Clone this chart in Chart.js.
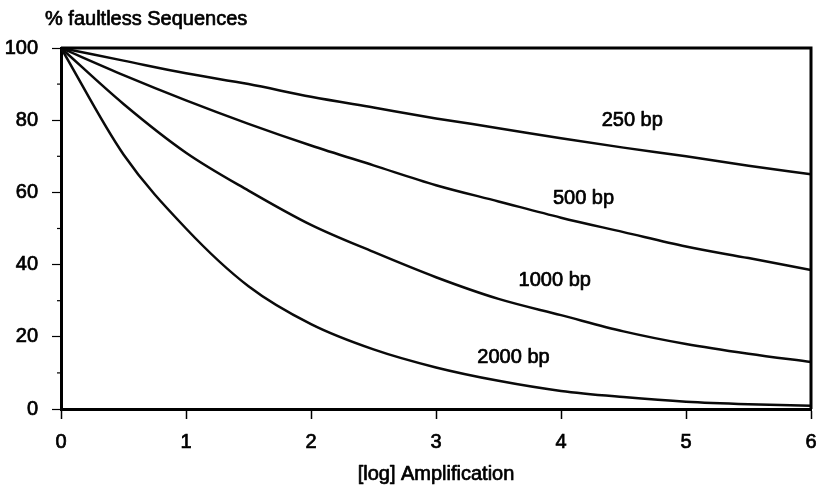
<!DOCTYPE html>
<html>
<head>
<meta charset="utf-8">
<script src="https://cdn.jsdelivr.net/npm/chart.js@4/dist/chart.umd.min.js"></script>
<style>
  html, body { margin: 0; padding: 0; background: #fff; }
  #wrap { width: 818px; height: 486px; }
</style>
</head>
<body>
<div id="wrap"><canvas id="c" width="818" height="486"></canvas></div>
<script>
// ---- data ----
const amplification = [0, 0.5, 1, 1.5, 2, 2.5, 3, 3.5, 4, 4.5, 5, 5.5, 6];
const bp250  = [100, 96.5, 93, 90, 86.5, 83.5, 80.5, 77.8, 75, 72.4, 70, 67.4, 65];
const bp500  = [100, 92.5, 85.5, 79, 73, 67.5, 62, 57.5, 53, 49, 45, 41.8, 38.5];
const bp1000 = [100, 84.5, 71, 60.5, 51, 43.5, 36.5, 30.5, 26, 21.5, 18, 15.3, 13];
const bp2000 = [100, 70.5, 50, 34, 23.5, 16.5, 11.5, 7.8, 5, 3.3, 2, 1.3, 0.9];
const seriesNames = ['250 bp', '500 bp', '1000 bp', '2000 bp'];
const xTicks = [0, 1, 2, 3, 4, 5, 6];
const yTicks = [0, 20, 40, 60, 80, 100];
const yMinorTicks = [10, 30, 50, 70, 90];
const yTitle = '% faultless Sequences';
const xTitle = '[log] Amplification';

const FONT = 'Arial, "Liberation Sans", Helvetica, sans-serif';
const STROKE = 0.7;
const series = [bp250, bp500, bp1000, bp2000];

function pts(arr) { return arr.map((v, i) => ({ x: amplification[i], y: v })); }

// label anchors (data coordinates) for the in-plot series names
const labelAnchors = [
  { x: 4.57, y: 80.0 },
  { x: 4.18, y: 58.4 },
  { x: 3.95, y: 35.5 },
  { x: 3.62, y: 14.3 }
];

function heavyText(ctx, t, x, y) {
  ctx.fillText(t, x, y);
  ctx.strokeText(t, x, y);
}

const framePlugin = {
  id: 'frame',
  afterDraw(chart) {
    const { ctx, chartArea: a, scales } = chart;
    const xs = scales.x, ys = scales.y;
    ctx.save();
    // frame top and right
    ctx.strokeStyle = '#000';
    ctx.lineWidth = 3;
    ctx.beginPath();
    ctx.moveTo(a.left, a.top);
    ctx.lineTo(a.right, a.top);
    ctx.lineTo(a.right, a.bottom);
    ctx.stroke();
    // minor y ticks
    ctx.lineWidth = 1.2;
    yMinorTicks.forEach(v => {
      const py = ys.getPixelForValue(v);
      ctx.beginPath();
      ctx.moveTo(a.left - 4, py);
      ctx.lineTo(a.left, py);
      ctx.stroke();
    });
    // texts
    ctx.fillStyle = '#000';
    ctx.strokeStyle = '#000';
    ctx.lineWidth = STROKE;
    ctx.lineJoin = 'round';
    ctx.font = '20px ' + FONT;
    ctx.textAlign = 'center';
    ctx.textBaseline = 'middle';
    labelAnchors.forEach((p, i) => {
      heavyText(ctx, seriesNames[i], xs.getPixelForValue(p.x), ys.getPixelForValue(p.y));
    });
    ctx.textAlign = 'left';
    ctx.textBaseline = 'alphabetic';
    heavyText(ctx, yTitle, 45, 25);
    ctx.textAlign = 'center';
    heavyText(ctx, xTitle, (a.left + a.right) / 2, 480);
    ctx.restore();
  }
};

const tickFont = { family: FONT, size: 20 };

new Chart(document.getElementById('c'), {
  type: 'line',
  data: {
    datasets: series.map((s, i) => ({
      label: seriesNames[i],
      data: pts(s),
      borderColor: '#0a0a0a',
      borderWidth: 2.5,
      pointRadius: 0,
      tension: 0.4,
      cubicInterpolationMode: 'monotone',
      fill: false
    }))
  },
  options: {
    responsive: false,
    animation: false,
    layout: { padding: { top: 48, right: 7, left: 0, bottom: 0 } },
    plugins: { legend: { display: false }, tooltip: { enabled: false } },
    scales: {
      x: {
        type: 'linear',
        min: 0, max: 6,
        afterBuildTicks(scale) { scale.ticks = xTicks.map(v => ({ value: v })); },
        afterFit(scale) { scale.height = 77; scale.paddingLeft = 0; scale.paddingRight = 0; },
        border: { display: true, color: '#000', width: 3 },
        grid: { drawOnChartArea: false, drawTicks: true, tickLength: 10, tickColor: '#000', tickWidth: 1.5 },
        ticks: { color: '#000', padding: 11, font: tickFont, maxRotation: 0, textStrokeColor: '#000', textStrokeWidth: STROKE },
        title: { display: false }
      },
      y: {
        type: 'linear',
        min: 0, max: 100,
        afterBuildTicks(scale) { scale.ticks = yTicks.map(v => ({ value: v })); },
        afterFit(scale) { scale.width = 61; },
        border: { display: true, color: '#000', width: 3 },
        grid: { drawOnChartArea: false, drawTicks: true, tickLength: 9, tickColor: '#000', tickWidth: 1.2 },
        ticks: { color: '#000', padding: 14, font: tickFont, textStrokeColor: '#000', textStrokeWidth: STROKE }
      }
    }
  },
  plugins: [framePlugin]
});
</script>
</body>
</html>
